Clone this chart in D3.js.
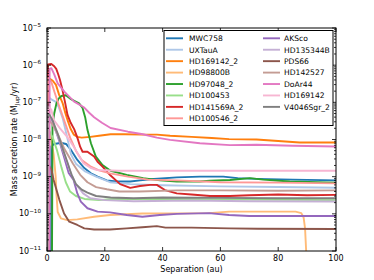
<!DOCTYPE html>
<html><head><meta charset="utf-8">
<script src="https://cdnjs.cloudflare.com/ajax/libs/d3/7.8.5/d3.min.js"></script>
<style>body{margin:0;background:#fff;} svg{display:block;font-family:"DejaVu Sans",sans-serif;}</style>
</head><body><svg id="c" width="374" height="280"></svg>
<script>
// ---- data: [separation (au), log10 mass accretion rate (M_Jup/yr)] ----
const names = ["MWC758","UXTauA","HD169142_2","HD98800B","HD97048_2","HD100453","HD141569A_2","HD100546_2",
               "AKSco","HD135344B","PDS66","HD142527","DoAr44","HD169142","V4046Sgr_2"];
const colors = ["#1f77b4","#aec7e8","#ff7f0e","#ffbb78","#2ca02c","#98df8a","#d62728","#ff9896",
                "#9467bd","#c5b0d5","#8c564b","#c49c94","#e377c2","#f7b6d2","#7f7f7f"];
const xTicks = [0,20,40,60,80,100];
const yTickExps = [-11,-10,-9,-8,-7,-6,-5];

const MWC758 = [[0,-14],[1.3,-14],[1.5,-8.18],[2.5,-8.12],[4,-8.1],[5.5,-8.1],[6.6,-8.12],[8.3,-8.28],[10.5,-8.55],[12.9,-8.77],[15.2,-8.91],[17.5,-9.0],[20.7,-9.1],[24,-9.13],[28.8,-9.13],[32.2,-9.1],[35.7,-9.07],[44.9,-9.02],[52.9,-9.0],[56.4,-9.0],[61,-9.0],[66,-9.04],[72.5,-9.06],[85,-9.08],[100,-9.1]];
const UXTauA = [[0,-14],[0.3,-6.85],[1.5,-6.92],[2.9,-6.98],[4,-7.12],[5.5,-7.45],[7,-7.95],[8.3,-8.4],[10,-8.65],[13,-8.85],[17,-9.0],[21.8,-9.15],[28.8,-9.2],[40,-9.23],[60,-9.26],[80,-9.28],[100,-9.3]];
const HD169142_2 = [[0,-14],[0.3,-6.4],[1,-6.37],[2,-6.42],[3.1,-6.53],[4.2,-6.8],[5.4,-7.02],[6.2,-7.25],[7.2,-7.5],[8.2,-7.72],[9.3,-7.87],[10.5,-7.93],[12,-7.95],[15,-7.93],[18,-7.9],[22,-7.86],[27,-7.86],[33,-7.87],[38,-7.87],[42.6,-7.9],[50,-7.93],[57,-7.96],[63,-7.99],[72.5,-8.0],[80,-8.04],[87.4,-8.08],[100,-8.08]];
const HD98800B = [[0,-14],[0.3,-7.6],[1.2,-7.9],[2.3,-8.4],[3,-9.0],[3.3,-9.5],[3.7,-9.95],[4.8,-10.12],[7,-10.17],[10.5,-10.15],[16.3,-10.08],[21.8,-10.03],[33,-9.99],[56,-9.98],[63,-9.94],[86,-9.94],[88,-9.98],[88.8,-10.1],[89.3,-10.4],[89.8,-11.2],[90,-14]];
const HD97048_2 = [[0,-14],[1.6,-14],[1.9,-7.6],[2.5,-7.3],[3.2,-7.05],[4,-6.9],[5,-6.83],[6.5,-6.81],[8,-6.9],[9.4,-6.96],[11.1,-7.03],[12.3,-7.15],[13.2,-7.4],[14,-7.74],[15.2,-8.1],[16.9,-8.46],[19.2,-8.69],[22,-8.84],[27.6,-8.95],[33.3,-9.04],[39.1,-9.1],[44.9,-9.13],[52.9,-9.13],[56.4,-9.11],[63.3,-9.09],[70.2,-9.04],[74.8,-9.08],[84,-9.13],[100,-9.16]];
const HD100453 = [[0,-14],[0.3,-7.7],[2,-7.95],[3.5,-8.3],[5,-8.75],[6.5,-9.15],[8,-9.4],[10,-9.52],[13,-9.6],[18,-9.63],[23,-9.6],[40,-9.6],[60,-9.61],[100,-9.63]];
const HD141569A_2 = [[0,-14],[0.3,-5.98],[1.5,-5.97],[2.5,-6.03],[3.2,-6.1],[3.9,-6.25],[4.5,-6.4],[5.3,-6.65],[6.2,-6.98],[7.1,-7.34],[8.2,-7.55],[9.4,-7.72],[10.5,-7.95],[11.5,-8.2],[12.3,-8.33],[14,-8.33],[16.3,-8.46],[17.5,-8.6],[19.2,-8.73],[22,-8.97],[25.3,-9.2],[28.8,-9.3],[32.2,-9.25],[35.7,-9.22],[38,-9.22],[40.8,-9.36],[44.9,-9.45],[50,-9.48],[56.4,-9.52],[63.3,-9.52],[70,-9.5],[80,-9.48],[90,-9.5],[100,-9.49]];
const HD100546_2 = [[0,-14],[0.3,-6.35],[1.5,-6.45],[2.5,-6.7],[4,-7.05],[6,-7.5],[8,-7.95],[10,-8.3],[12,-8.55],[15,-8.72],[18,-8.83],[21.8,-8.91],[28,-9.0],[35,-9.08],[45,-9.1],[60,-9.15],[80,-9.16],[100,-9.18]];
const AKSco = [[0,-14],[0.3,-7.4],[1.5,-7.5],[3,-7.75],[4.5,-8.1],[6,-8.5],[7.5,-8.9],[9.2,-9.09],[10.5,-9.45],[11.7,-9.67],[14,-9.85],[17.5,-9.94],[21.8,-9.96],[27.6,-10.03],[33,-10.08],[39,-10.03],[45,-10.0],[56,-9.98],[63,-10.03],[70,-10.06],[100,-10.06]];
const HD135344B = [[0,-14],[0.3,-7.35],[2,-7.6],[4,-7.95],[6,-8.4],[8,-8.85],[10,-9.2],[12.5,-9.45],[15,-9.58],[20,-9.63],[30,-9.66],[50,-9.64],[70,-9.66],[100,-9.67]];
const PDS66 = [[0,-14],[0.3,-8.65],[1.5,-8.8],[2.3,-9.09],[4.3,-9.63],[5.9,-9.99],[7.7,-10.21],[10.5,-10.3],[12.9,-10.39],[16.3,-10.42],[21.8,-10.42],[27.6,-10.39],[33,-10.36],[38,-10.33],[41,-10.37],[50,-10.37],[63,-10.39],[73,-10.4],[100,-10.41]];
const HD142527 = [[0,-14],[0.3,-7.45],[2,-7.6],[4,-7.9],[6,-8.25],[9,-8.65],[11.5,-8.95],[14,-9.15],[17,-9.28],[20.7,-9.34],[25,-9.4],[32,-9.4],[45,-9.37],[60,-9.37],[80,-9.38],[100,-9.37]];
const DoAr44 = [[0,-14],[0.8,-14],[0.9,-6.1],[1.5,-6.08],[2.5,-6.25],[3.7,-6.49],[6,-6.71],[9.4,-6.98],[12.9,-7.14],[14.6,-7.28],[16.3,-7.4],[19,-7.55],[22,-7.69],[28,-7.79],[33.2,-7.86],[38,-7.95],[42.6,-8.01],[52.9,-8.1],[63.3,-8.15],[72.5,-8.14],[85,-8.17],[100,-8.19]];
const HD169142 = [[0,-14],[0.3,-7.1],[1.5,-7.2],[2.3,-7.47],[4.5,-7.7],[6.9,-7.92],[9.2,-8.19],[12.6,-8.64],[15,-8.76],[17.3,-8.82],[25,-8.84],[50,-8.84],[75,-8.84],[100,-8.84]];
const V4046Sgr_2 = [[0,-14],[0.2,-7.3],[1,-7.35],[2,-7.5],[3.5,-7.8],[5,-8.15],[7,-8.6],[8.5,-8.95],[10,-9.2],[12,-9.35],[14,-9.43],[17,-9.52],[22,-9.56],[30,-9.58],[40,-9.56],[60,-9.57],[80,-9.58],[100,-9.58]];

const series = [MWC758,UXTauA,HD169142_2,HD98800B,HD97048_2,HD100453,HD141569A_2,HD100546_2,
                AKSco,HD135344B,PDS66,HD142527,DoAr44,HD169142,V4046Sgr_2];

// ---- layout ----
const L=47, R=336, T=28, B=251;
const x = d3.scaleLinear().domain([0,100]).range([L,R]);
const y = d3.scaleLog().domain([1e-11,1e-5]).range([B,T]);
const svg = d3.select('#c');
svg.append('rect').attr('width',374).attr('height',280).attr('fill','#fff');

svg.append('defs').append('clipPath').attr('id','clip')
  .append('rect').attr('x',L).attr('y',T).attr('width',R-L).attr('height',B-T);

const line = d3.line().x(d=>x(d[0])).y(d=>y(Math.pow(10,d[1])));
const gl = svg.append('g').attr('clip-path','url(#clip)');
series.forEach((s,i)=>{
  gl.append('path').attr('d',line(s)).attr('fill','none')
    .attr('stroke',colors[i]).attr('stroke-width',1.9)
    .attr('stroke-linejoin','round').attr('stroke-linecap','butt');
});

// ---- ticks (inward on all four sides) ----
const gt = svg.append('g').attr('stroke','#000').attr('stroke-width',0.8);
xTicks.forEach(t=>{
  const px = x(t);
  gt.append('line').attr('x1',px).attr('x2',px).attr('y1',B).attr('y2',B-4);
  gt.append('line').attr('x1',px).attr('x2',px).attr('y1',T).attr('y2',T+4);
});
yTickExps.forEach(e=>{
  const py = y(Math.pow(10,e));
  gt.append('line').attr('x1',L).attr('x2',L+4).attr('y1',py).attr('y2',py);
  gt.append('line').attr('x1',R).attr('x2',R-4).attr('y1',py).attr('y2',py);
  if (e < -5) {
    for (let k=2;k<=9;k++){
      const pm = y(k*Math.pow(10,e));
      gt.append('line').attr('x1',L).attr('x2',L+2).attr('y1',pm).attr('y2',pm);
      gt.append('line').attr('x1',R).attr('x2',R-2).attr('y1',pm).attr('y2',pm);
    }
  }
});

// frame
svg.append('rect').attr('x',L).attr('y',T).attr('width',R-L).attr('height',B-T)
  .attr('fill','none').attr('stroke','#000').attr('stroke-width',1);

// tick labels
xTicks.forEach(t=>{
  svg.append('text').attr('x',x(t)).attr('y',B+10).attr('text-anchor','middle')
    .attr('font-size',8).attr('fill','#000').text(t);
});
yTickExps.forEach(e=>{
  const py = y(Math.pow(10,e));
  const tx = svg.append('text').attr('x',41).attr('y',py+2.5).attr('text-anchor','end')
    .attr('font-size',8).attr('fill','#000');
  tx.append('tspan').text('10');
  tx.append('tspan').attr('dy',-3.5).attr('font-size',5.6).text('\u2212'+Math.abs(e));
});

// axis labels
svg.append('text').attr('x',(L+R)/2).attr('y',272).attr('text-anchor','middle')
  .attr('font-size',8).attr('fill','#000').text('Separation (au)');
const yl = svg.append('text').attr('transform','translate(17,'+((T+B)/2)+') rotate(-90)')
  .attr('text-anchor','middle').attr('font-size',8).attr('fill','#000');
yl.append('tspan').text('Mass accretion rate (M');
yl.append('tspan').attr('dy',1.8).attr('font-size',5.6).text('Jup');
yl.append('tspan').attr('dy',-1.8).text('/yr)');

// ---- legend ----
const lg = svg.append('g');
lg.append('rect').attr('x',164).attr('y',30.5).attr('width',169).attr('height',95)
  .attr('fill','#fff').attr('stroke','#000').attr('stroke-width',1);
names.forEach((n,i)=>{
  const col = i<8?0:1, row = i<8?i:i-8;
  const ry = 38.3 + row*11.43;
  const x0 = col===0?166:263, x1 = col===0?183:280, tx = col===0?189:284;
  lg.append('line').attr('x1',x0).attr('x2',x1).attr('y1',ry).attr('y2',ry)
    .attr('stroke',colors[i]).attr('stroke-width',1.9);
  lg.append('text').attr('x',tx).attr('y',ry+2.8).attr('font-size',7.6).attr('fill','#000').text(n);
});
</script></body></html>
